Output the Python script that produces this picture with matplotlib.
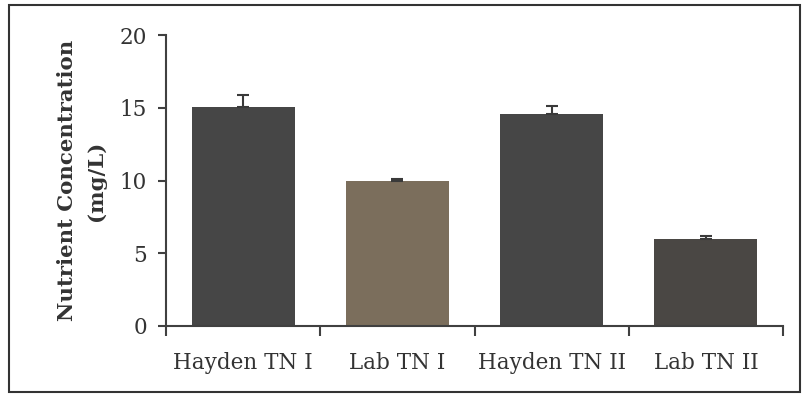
import matplotlib.pyplot as plt
from matplotlib.patches import Rectangle
import numpy as np

categories = ['Hayden TN I', 'Lab TN I', 'Hayden TN II', 'Lab TN II']
values = [15.05, 10.0, 14.6, 6.0]
errors = [0.8, 0.1, 0.55, 0.15]
bar_colors = ['#464646', '#7b6e5c', '#464646', '#4a4744']

plt.rcParams['font.family'] = ['DejaVu Serif']

fig = plt.figure(figsize=(8.03, 3.95), dpi=100)
ax = fig.add_axes([0.207, 0.175, 0.768, 0.736])

x = np.arange(len(categories))
ax.bar(x, values, width=0.67, color=bar_colors, zorder=2)
ax.errorbar(x, values, yerr=[[0] * len(errors), errors], fmt='none',
            ecolor='#3a3a3a', elinewidth=1.5, capsize=4.3, capthick=1.5, zorder=3)

ax.set_xlim(-0.5, len(categories) - 0.5)
ax.set_ylim(0, 20)
ax.set_yticks([0, 5, 10, 15, 20])
ax.set_xticks(x)
ax.set_xticklabels(categories)
ax.set_xticks(np.arange(-0.5, len(categories)), minor=True)
ax.tick_params(axis='x', which='major', length=0, pad=19, labelsize=15.5, colors='#333333')
ax.tick_params(axis='x', which='minor', length=7, width=1.5, color='#404040')
ax.tick_params(axis='y', length=6, width=1.5, pad=8, labelsize=15.5, colors='#333333')
ax.tick_params(axis='y', color='#404040')

for side in ['top', 'right']:
    ax.spines[side].set_visible(False)
for side in ['left', 'bottom']:
    ax.spines[side].set_linewidth(1.5)
    ax.spines[side].set_color('#404040')

ax.set_ylabel('Nutrient Concentration\n(mg/L)', fontsize=15.3, fontweight='bold',
              color='#333333', linespacing=1.55, labelpad=10)

# outer frame around the whole chart
fig.patches.append(Rectangle((0.011, 0.008), 0.985, 0.98, transform=fig.transFigure,
                             fill=False, edgecolor='#333333', linewidth=1.5))

fig.savefig('out.png', dpi=100)
